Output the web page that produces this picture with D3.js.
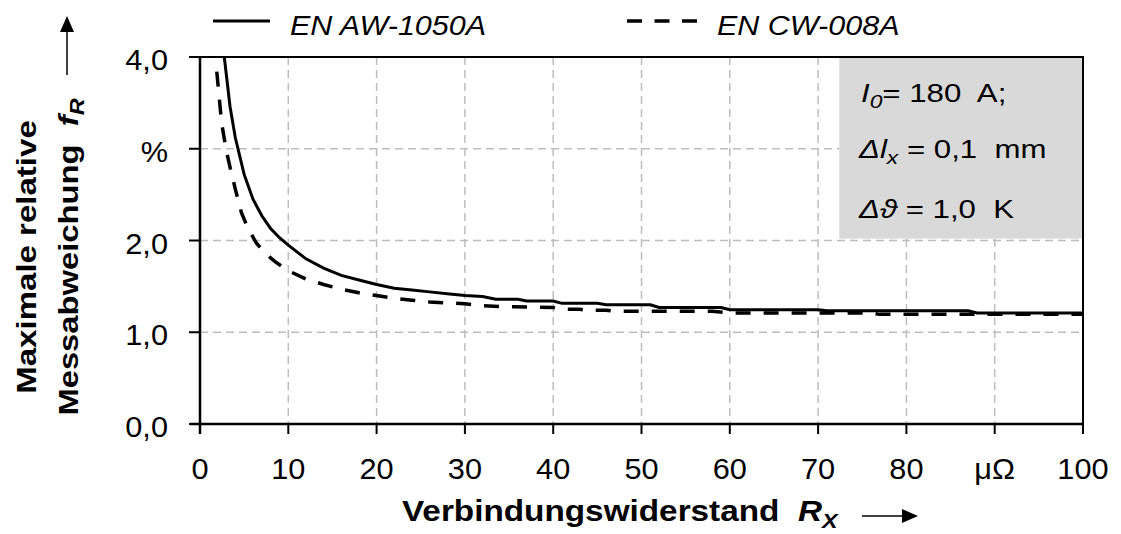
<!DOCTYPE html>
<html>
<head>
<meta charset="utf-8">
<script src="https://cdn.jsdelivr.net/npm/d3@7"></script>
<style>
  body { margin: 0; background: #fff; }
  svg { display: block; font-family: "Liberation Sans", Arial, sans-serif; }
  svg text { white-space: pre; }
</style>
</head>
<body>
<div id="chart"></div>
<script>
// values
var rxAl = [2.75, 3.4, 4, 5, 6, 7, 8, 9, 10, 12, 14, 16, 18, 20, 22, 24, 26, 28, 30, 32, 33.5, 36, 37, 40, 41, 45, 46, 51, 52, 59, 60, 70, 71, 87, 88, 100];
var frAl = [4.00, 3.46, 3.12, 2.72, 2.45, 2.27, 2.13, 2.03, 1.95, 1.80, 1.70, 1.62, 1.57, 1.52, 1.48, 1.46, 1.44, 1.42, 1.40, 1.39, 1.36, 1.36, 1.34, 1.34, 1.315, 1.315, 1.30, 1.30, 1.27, 1.27, 1.245, 1.245, 1.235, 1.235, 1.21, 1.21];

var rxCu = [1.9, 2.45, 3, 3.4, 4, 4.7, 5.5, 6.4, 7.5, 8.5, 10, 12, 14, 16, 18, 20, 22, 24, 26, 28, 30, 32, 34, 40, 41, 43, 44, 46, 47, 58, 60, 76, 77, 100];
var frCu = [3.84, 3.28, 2.97, 2.80, 2.56, 2.30, 2.12, 1.97, 1.85, 1.77, 1.67, 1.58, 1.52, 1.47, 1.43, 1.40, 1.37, 1.35, 1.33, 1.32, 1.31, 1.29, 1.28, 1.27, 1.25, 1.25, 1.24, 1.24, 1.23, 1.23, 1.21, 1.21, 1.195, 1.195];

var seriesNames = ["EN AW-1050A", "EN CW-008A"];
var xTicks = [0, 10, 20, 30, 40, 50, 60, 70, 80, 90, 100];
var xTickLabels = ["0", "10", "20", "30", "40", "50", "60", "70", "80", "\u03bc\u03a9", "100"];
var yTicks = [0, 1, 2, 3, 4];
var yTickLabels = ["0,0", "1,0", "2,0", "%", "4,0"];

var width = 1121, height = 534;
var svg = d3.select("#chart").append("svg")
  .attr("width", width).attr("height", height);

var x = d3.scaleLinear().domain([0, 100]).range([200, 1083]);
var y = d3.scaleLinear().domain([0, 4]).range([424, 57]);

// grid
var grid = svg.append("g")
  .attr("stroke", "#bdbdbd").attr("stroke-width", 1.5).attr("stroke-dasharray", "8,5");
grid.selectAll("line.vg").data(xTicks.slice(1, -1)).enter().append("line")
  .attr("x1", d => x(d)).attr("x2", d => x(d))
  .attr("y1", y(4)).attr("y2", y(0));
grid.selectAll("line.hg").data(yTicks.slice(1)).enter().append("line")
  .attr("x1", x(0)).attr("x2", x(100))
  .attr("y1", d => y(d)).attr("y2", d => y(d));

// info box
svg.append("rect")
  .attr("x", x(72.4)).attr("y", y(4))
  .attr("width", x(100) - x(72.4)).attr("height", y(2.02) - y(4))
  .attr("fill", "#d9d9d9");

// frame
var frame = svg.append("g").attr("stroke", "#000").attr("fill", "none");
frame.append("path").attr("stroke-width", 2)
  .attr("d", "M" + x(0) + "," + y(4) + "H" + x(100) + "V" + y(0));
frame.append("line").attr("stroke-width", 2.5)
  .attr("x1", x(0)).attr("x2", x(0)).attr("y1", y(4)).attr("y2", y(0) + 10);
frame.append("line").attr("stroke-width", 2.5)
  .attr("x1", x(0) - 10).attr("x2", x(100)).attr("y1", y(0)).attr("y2", y(0));
frame.selectAll("line.yt").data(yTicks).enter().append("line").attr("stroke-width", 2)
  .attr("x1", x(0) - 11).attr("x2", x(0)).attr("y1", d => y(d)).attr("y2", d => y(d));
frame.selectAll("line.xt").data(xTicks).enter().append("line").attr("stroke-width", 2)
  .attr("x1", d => x(d)).attr("x2", d => x(d)).attr("y1", y(0)).attr("y2", y(0) + 10);

// curves
var line = d3.line().x(d => x(d[0])).y(d => y(d[1]));
svg.append("path")
  .datum(d3.zip(rxCu, frCu))
  .attr("d", line).attr("fill", "none").attr("stroke", "#000")
  .attr("stroke-width", 3.5).attr("stroke-dasharray", "15,13");
svg.append("path")
  .datum(d3.zip(rxAl, frAl))
  .attr("d", line).attr("fill", "none").attr("stroke", "#000")
  .attr("stroke-width", 3);

// text helper: horizontal stretch like the original
function label(px, py, rot, sx) {
  return svg.append("text")
    .attr("transform", "translate(" + px + "," + py + ") rotate(" + rot + ") scale(" + sx + ",1)")
    .attr("fill", "#000");
}

// tick labels
yTicks.forEach(function(d, i) {
  label(168, y(d) + 13, 0, 1.06).attr("text-anchor", "end")
    .attr("font-size", 29).text(yTickLabels[i]);
});
xTicks.forEach(function(d, i) {
  label(x(d), 479, 0, 1.06).attr("text-anchor", "middle")
    .attr("font-size", 29).text(xTickLabels[i]);
});

// axis titles
label(36, 257, -90, 1.18).attr("text-anchor", "middle")
  .attr("font-size", 28).attr("font-weight", "bold").text("Maximale relative");
var t2 = label(78, 257, -90, 1.17).attr("text-anchor", "middle")
  .attr("font-size", 28).attr("font-weight", "bold");
t2.append("tspan").text("Messabweichung  ");
t2.append("tspan").attr("font-style", "italic").text("f");
t2.append("tspan").attr("font-style", "italic").attr("font-size", 20).attr("dy", 6).text("R");

var t3 = label(402, 521, 0, 1.11).attr("font-size", 30).attr("font-weight", "bold");
t3.append("tspan").text("Verbindungswiderstand  ");
t3.append("tspan").attr("font-style", "italic").text("R");
t3.append("tspan").attr("font-style", "italic").attr("font-size", 21).attr("dy", 7).text("X");

// arrows
svg.append("line").attr("x1", 67).attr("x2", 67).attr("y1", 75).attr("y2", 30)
  .attr("stroke", "#000").attr("stroke-width", 1.5);
svg.append("path").attr("d", "M67,16L74,32L60,32Z").attr("fill", "#000");
svg.append("line").attr("x1", 862).attr("x2", 905).attr("y1", 516).attr("y2", 516)
  .attr("stroke", "#000").attr("stroke-width", 1.5);
svg.append("path").attr("d", "M918,516L902,509L902,523Z").attr("fill", "#000");

// legend
svg.append("line").attr("x1", 213).attr("x2", 270).attr("y1", 21).attr("y2", 21)
  .attr("stroke", "#000").attr("stroke-width", 3);
label(290, 35, 0, 1.09).attr("font-size", 28).attr("font-style", "italic").text(seriesNames[0]);
svg.append("line").attr("x1", 627).attr("x2", 697).attr("y1", 21).attr("y2", 21)
  .attr("stroke", "#000").attr("stroke-width", 3.5).attr("stroke-dasharray", "15,12.5");
label(717, 35, 0, 1.09).attr("font-size", 28).attr("font-style", "italic").text(seriesNames[1]);

// box text
var b1 = label(861, 102, 0, 1.2).attr("font-size", 26);
b1.append("tspan").attr("font-style", "italic").text("I");
b1.append("tspan").attr("font-style", "italic").attr("font-size", 19).attr("dy", 6).text("0");
b1.append("tspan").attr("dy", -6).text("= 180  A;");
var b2 = label(859, 158, 0, 1.2).attr("font-size", 26);
b2.append("tspan").attr("font-style", "italic").text("\u0394l");
b2.append("tspan").attr("font-style", "italic").attr("font-size", 19).attr("dy", 6).text("x");
b2.append("tspan").attr("dy", -6).text(" = 0,1  mm");
var b3 = label(859, 218, 0, 1.2).attr("font-size", 26);
b3.append("tspan").attr("font-style", "italic").text("\u0394\u03d1");
b3.append("tspan").text(" = 1,0  K");
</script>
</body>
</html>
